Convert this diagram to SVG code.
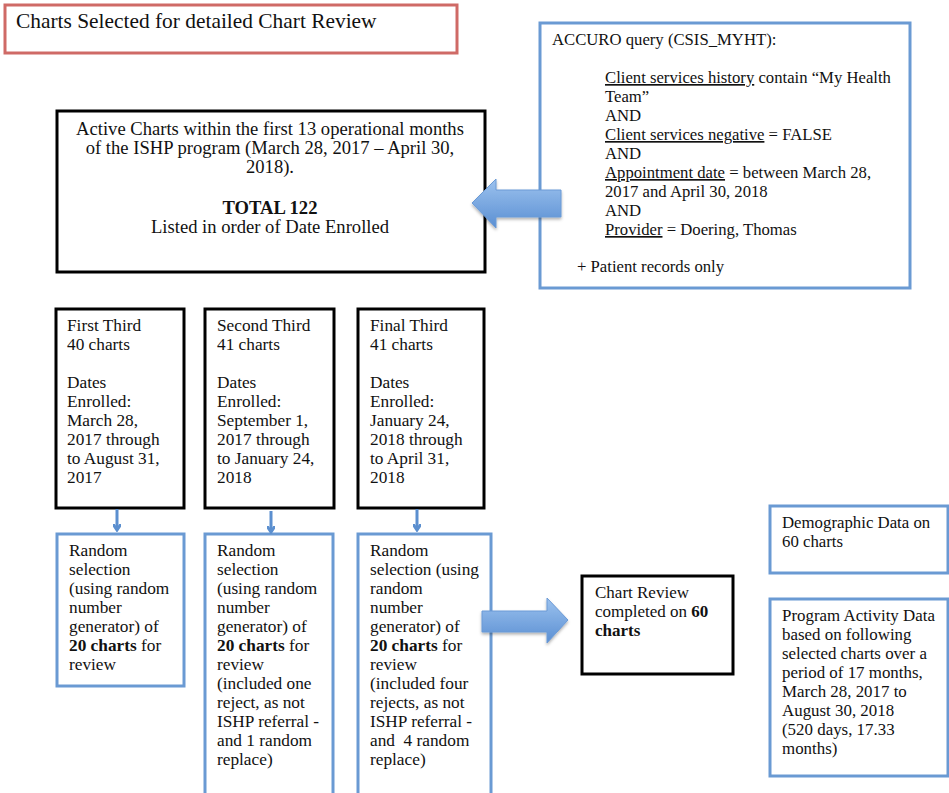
<svg xmlns="http://www.w3.org/2000/svg" width="949" height="793" viewBox="0 0 949 793">
<defs>
<linearGradient id="ag" x1="0" y1="0" x2="0" y2="1">
<stop offset="0" stop-color="#9cc2ee"/>
<stop offset="1" stop-color="#5a8fd3"/>
</linearGradient>
<filter id="sh" x="-20%" y="-20%" width="140%" height="160%">
<feDropShadow dx="0" dy="2" stdDeviation="1.5" flood-color="#000" flood-opacity="0.3"/>
</filter>
<marker id="ah" markerWidth="8" markerHeight="8" refX="6" refY="4" orient="auto" markerUnits="userSpaceOnUse">
<path d="M0,0 L6,4 L0,8" fill="none" stroke="#5b8fcf" stroke-width="3"/>
</marker>
</defs>
<style>
text{font-family:"Liberation Serif","DejaVu Serif",serif;font-size:16.7px;fill:#111}
.col text{font-size:17.3px}
#active text{font-size:18.6px}
#activity text{font-size:16.9px}
#demo text{font-size:16.8px}
#review text{font-size:17px}
.b{font-weight:bold}
.blk{fill:#fff;stroke:#000;stroke-width:3}
.blu{fill:#fff;stroke:#6a9ad3;stroke-width:3}
.red{fill:#fff;stroke:#cf6a66;stroke-width:3}
.u{text-decoration:underline}
.conn{stroke:#5b8fcf;stroke-width:3;fill:none}
.arr{fill:url(#ag);stroke:#6b9ad6;stroke-width:1;filter:url(#sh)}
</style>
<rect width="949" height="793" fill="#fff"/>

<g id="title">
<rect class="red" x="5" y="5" width="452" height="48"/>
<text x="16" y="28" style="font-size:21.4px">Charts Selected for detailed Chart Review</text>
</g>

<g id="accuro">
<rect class="blu" x="540" y="23" width="370" height="265"/>
<text x="552" y="45">ACCURO query (CSIS_MYHT):</text>
<text x="605" y="83"><tspan class="u">Client services history</tspan> contain “My Health</text>
<text x="605" y="102">Team”</text>
<text x="605" y="121">AND</text>
<text x="605" y="140"><tspan class="u">Client services negative</tspan> = FALSE</text>
<text x="605" y="159">AND</text>
<text x="605" y="178"><tspan class="u">Appointment date</tspan> = between March 28,</text>
<text x="605" y="197">2017 and April 30, 2018</text>
<text x="605" y="216">AND</text>
<text x="605" y="235"><tspan class="u">Provider</tspan> = Doering, Thomas</text>
<text x="577" y="272">+ Patient records only</text>
</g>

<g id="active">
<rect class="blk" x="57" y="111" width="428" height="161"/>
<text x="270" y="135" text-anchor="middle">Active Charts within the first 13 operational months</text>
<text x="270" y="154" text-anchor="middle">of the ISHP program (March 28, 2017 – April 30,</text>
<text x="270" y="173" text-anchor="middle">2018).</text>
<text x="270" y="214" text-anchor="middle" class="b">TOTAL 122</text>
<text x="270" y="233" text-anchor="middle">Listed in order of Date Enrolled</text>
</g>

<g id="third1" class="col">
<rect class="blk" x="56" y="309" width="128" height="199"/>
<text x="67" y="331">First Third</text>
<text x="67" y="350">40 charts</text>
<text x="67" y="388">Dates</text>
<text x="67" y="407">Enrolled:</text>
<text x="67" y="426">March 28,</text>
<text x="67" y="445">2017 through</text>
<text x="67" y="464">to August 31,</text>
<text x="67" y="483">2017</text>
</g>

<g id="third2" class="col">
<rect class="blk" x="205" y="309" width="129" height="199"/>
<text x="217" y="331">Second Third</text>
<text x="217" y="350">41 charts</text>
<text x="217" y="388">Dates</text>
<text x="217" y="407">Enrolled:</text>
<text x="217" y="426">September 1,</text>
<text x="217" y="445">2017 through</text>
<text x="217" y="464">to January 24,</text>
<text x="217" y="483">2018</text>
</g>

<g id="third3" class="col">
<rect class="blk" x="358" y="309" width="126" height="199"/>
<text x="370" y="331">Final Third</text>
<text x="370" y="350">41 charts</text>
<text x="370" y="388">Dates</text>
<text x="370" y="407">Enrolled:</text>
<text x="370" y="426">January 24,</text>
<text x="370" y="445">2018 through</text>
<text x="370" y="464">to April 31,</text>
<text x="370" y="483">2018</text>
</g>

<g id="random1" class="col">
<rect class="blu" x="57" y="534" width="127" height="152"/>
<text x="69" y="556">Random</text>
<text x="69" y="575">selection</text>
<text x="69" y="594">(using random</text>
<text x="69" y="613">number</text>
<text x="69" y="632">generator) of</text>
<text x="69" y="651"><tspan class="b">20 charts</tspan> for</text>
<text x="69" y="670">review</text>
</g>

<g id="random2" class="col">
<rect class="blu" x="205" y="534" width="128" height="262"/>
<text x="217" y="556">Random</text>
<text x="217" y="575">selection</text>
<text x="217" y="594">(using random</text>
<text x="217" y="613">number</text>
<text x="217" y="632">generator) of</text>
<text x="217" y="651"><tspan class="b">20 charts</tspan> for</text>
<text x="217" y="670">review</text>
<text x="217" y="689">(included one</text>
<text x="217" y="708">reject, as not</text>
<text x="217" y="727">ISHP referral -</text>
<text x="217" y="746">and 1 random</text>
<text x="217" y="765">replace)</text>
</g>

<g id="random3" class="col">
<rect class="blu" x="358" y="534" width="133" height="262"/>
<text x="370" y="556">Random</text>
<text x="370" y="575">selection (using</text>
<text x="370" y="594">random</text>
<text x="370" y="613">number</text>
<text x="370" y="632">generator) of</text>
<text x="370" y="651"><tspan class="b">20 charts</tspan> for</text>
<text x="370" y="670">review</text>
<text x="370" y="689">(included four</text>
<text x="370" y="708">rejects, as not</text>
<text x="370" y="727">ISHP referral -</text>
<text x="370" y="746" xml:space="preserve">and  4 random</text>
<text x="370" y="765">replace)</text>
</g>

<g id="review">
<rect class="blk" x="582" y="576" width="151" height="98"/>
<text x="595" y="598">Chart Review</text>
<text x="595" y="617">completed on <tspan class="b">60</tspan></text>
<text x="595" y="636" class="b">charts</text>
</g>

<g id="demo">
<rect class="blu" x="770" y="506" width="178" height="67"/>
<text x="782" y="528">Demographic Data on</text>
<text x="782" y="547">60 charts</text>
</g>

<g id="activity">
<rect class="blu" x="770" y="599" width="178" height="177"/>
<text x="782" y="621">Program Activity Data</text>
<text x="782" y="640">based on following</text>
<text x="782" y="659">selected charts over a</text>
<text x="782" y="678">period of 17 months,</text>
<text x="782" y="697">March 28, 2017 to</text>
<text x="782" y="716">August 30, 2018</text>
<text x="782" y="735">(520 days, 17.33</text>
<text x="782" y="754">months)</text>
</g>

<g id="connectors">
<line class="conn" x1="117" y1="509" x2="117" y2="530" marker-end="url(#ah)"/>
<line class="conn" x1="271" y1="511" x2="271" y2="532" marker-end="url(#ah)"/>
<line class="conn" x1="417" y1="509" x2="417" y2="530" marker-end="url(#ah)"/>
<path class="arr" d="M561,190 L496,190 L496,179 L472,203 L496,228 L496,217 L561,217 Z"/>
<path class="arr" d="M482,611 L547,611 L547,598 L568,620 L547,643 L547,632 L482,632 Z"/>
</g>
</svg>
